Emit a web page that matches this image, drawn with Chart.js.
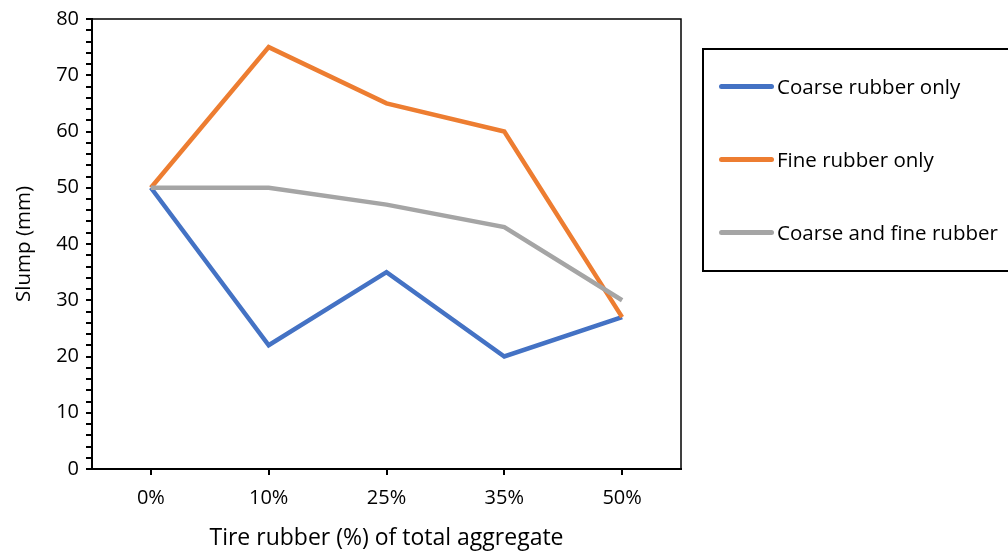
<!DOCTYPE html>
<html>
<head>
<meta charset="utf-8">
<script src="https://cdn.jsdelivr.net/npm/chart.js@4/dist/chart.umd.min.js"></script>
<style>
  body { margin: 0; background: #fff; overflow: hidden; font-family: "Open Sans", sans-serif; }
  #wrap { position: relative; width: 1008px; height: 556px; }
  #legend {
    position: absolute; left: 702px; top: 48px; width: 340px; height: 220px;
    border: 2px solid #000; box-sizing: content-box;
  }
  .item { position: absolute; left: 15px; height: 24px; line-height: 24px; display: flex; align-items: center; font-size: 20.5px; color: #000; }
  .swatch { width: 55px; height: 5px; border-radius: 3px; margin-right: 3px; }
</style>
</head>
<body>
<div id="wrap">
  <canvas id="chart" width="1008" height="556"></canvas>
  <div id="legend"></div>
</div>
<script>
// categories and series
const categories = ["0%", "10%", "25%", "35%", "50%"];
const coarse_only = [50, 22, 35, 20, 27];
const fine_only = [50, 75, 65, 60, 27];
const coarse_and_fine = [50, 50, 47, 43, 30];

const series_names = ["Coarse rubber only", "Fine rubber only", "Coarse and fine rubber"];
const series_colors = ["#4472C4", "#ED7D31", "#A5A5A5"];

const font_family = "'Open Sans', sans-serif";

// draw the box around the plot area
const frame_plugin = {
  id: "frame",
  afterDatasetsDraw(chart) {
    const a = chart.chartArea;
    const c = chart.ctx;
    c.save();
    c.strokeStyle = "#000";
    c.lineWidth = 1.5;
    c.strokeRect(a.left, a.top, a.right - a.left, a.bottom - a.top);
    c.restore();
  }
};

const ctx = document.getElementById("chart").getContext("2d");

new Chart(ctx, {
  type: "line",
  data: {
    labels: categories,
    datasets: [coarse_only, fine_only, coarse_and_fine].map((d, i) => ({
      label: series_names[i],
      data: d,
      borderColor: series_colors[i],
      backgroundColor: series_colors[i],
      borderWidth: 4.5,
      pointRadius: 0,
      fill: false,
      tension: 0,
      order: 2 - i
    }))
  },
  options: {
    responsive: false,
    animation: false,
    layout: { padding: { left: 0, top: 16, right: 327, bottom: 0 } },
    plugins: { legend: { display: false }, tooltip: { enabled: false } },
    scales: {
      x: {
        offset: true,
        border: { color: "#000", width: 2 },
        grid: { display: true, drawOnChartArea: false, offset: false, tickLength: 6, color: "#000", lineWidth: 2 },
        ticks: { color: "#000", font: { family: font_family, size: 20 }, padding: 11 },
        title: { display: true, text: "Tire rubber (%) of total aggregate", color: "#000", font: { family: font_family, size: 23 }, padding: { top: 8 } },
        afterFit(scale) { scale.height = 87; }
      },
      y: {
        min: 0, max: 80,
        border: { color: "#000", width: 2 },
        grid: { drawOnChartArea: false, tickLength: 6, color: "#000", lineWidth: 2 },
        ticks: {
          stepSize: 2,
          autoSkip: false,
          color: "#000",
          font: { family: font_family, size: 20 },
          padding: 7,
          callback: v => (v % 10 === 0 ? v : "")
        },
        title: { display: true, text: "Slump (mm)", color: "#000", font: { family: font_family, size: 20.5 }, padding: { top: 12, bottom: 4 } },
        afterFit(scale) { scale.width = 92; }
      }
    }
  },
  plugins: [frame_plugin]
});

// legend box on the right
const legend = document.getElementById("legend");
const item_centers = [36, 109, 182];
series_names.forEach((name, i) => {
  const el = document.createElement("div");
  el.className = "item";
  el.style.top = (item_centers[i] - 12) + "px";
  el.innerHTML = `<span class="swatch" style="background:${series_colors[i]}"></span><span>${name}</span>`;
  legend.appendChild(el);
});
</script>
</body>
</html>
